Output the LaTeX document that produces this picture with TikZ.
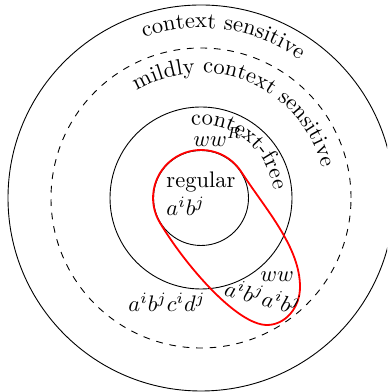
\documentclass[tikz,border=0pt]{standalone}
\usetikzlibrary{decorations.text}
\tikzset{
  x=0.4444pt, y=0.4444pt,
  ring/.style={draw=black, line width=0.4pt},
  lbl/.style={inner sep=0pt, anchor=base west},
  arctext/.style={decorate, decoration={text along path, text align=center, text={#1}}},
  redloop/.style={draw=red, thick}
}
\begin{document}
\begin{tikzpicture}
\useasboundingbox (0,0) rectangle (387,392);
\clip (0,0) rectangle (387,392);
\coordinate (C) at (201,194);
% circles
\draw[ring] (C) circle[radius=193];
\draw[ring, dashed] (C) circle[radius=150];
\draw[ring] (C) circle[radius=91];
\draw[ring] (C) circle[radius=47.5];
% curved labels
\path[arctext={context sensitive}] (C) ++(110:170) arc[start angle=110, end angle=54, radius=170];
\path[arctext={mildly context sensitive}] (C) ++(121:125) arc[start angle=121, end angle=14, radius=125];
\path[arctext={context-free}] (C) ++(98:73) arc[start angle=98, end angle=6, radius=73];
% red region
\coordinate (A) at (241.3,220.1);
\coordinate (R) at (300,105);
\coordinate (B) at (267,67);
\coordinate (L) at (159.9,169.3);
\draw[redloop] (A) .. controls (265.8,182.4) and (300,145) .. (R)
  .. controls (300,84) and (285,67) .. (B)
  .. controls (237,67) and (185.6,126.4) .. (L)
  arc[start angle=211, end angle=33, radius=48] -- cycle;
% labels
\node[lbl] (reg) at (166,204) {regular};
\node[lbl] (ab) at (166,176) {$a^ib^j$};
\node[lbl] (wwr) at (193,245) {$ww^R$};
\node[lbl] (ww) at (260,110) {$ww$};
\node[lbl] (abcd) at (128,80) {$a^ib^jc^id^j$};
\node[lbl, rotate=-15] (abab) at (223,97) {$a^ib^ja^ib^j$};
\end{tikzpicture}
\end{document}
